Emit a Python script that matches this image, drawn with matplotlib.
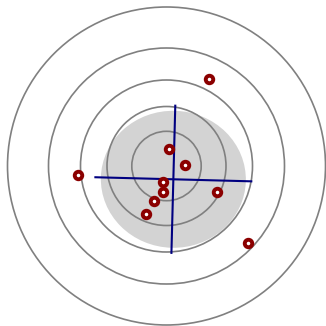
import numpy as np
import matplotlib
matplotlib.use("Agg")
import matplotlib.pyplot as plt
from matplotlib.patches import Circle, Ellipse

# Target ring radii
ring_radii = [34.7, 59.5, 86.0, 118.0, 159.0]

# Shot positions relative to the target centre
shot_x = [42.8, -88.2, 2.8, 18.2, -3.2, -3.2, 50.2, -12.2, -20.2, 81.5]
shot_y = [87.3, -9.3, 17.0, 0.7, -16.0, -26.3, -25.7, -35.0, -48.3, -77.3]

# Dispersion ellipse: semi-axes and rotation (degrees)
spread_semi_axes = [72.5, 68.5]
spread_angle = -1.5

fig = plt.figure(figsize=(3.26, 3.26), dpi=100)
ax = fig.add_axes([0, 0, 1, 1])
ax.set_xlim(-166.5, 159.5)
ax.set_ylim(-160, 166)
ax.set_aspect("equal")
ax.axis("off")

cx, cy = np.mean(shot_x), np.mean(shot_y)
a, b = spread_semi_axes

ax.add_patch(Ellipse((cx, cy), 2 * a, 2 * b, angle=spread_angle,
                     facecolor="#d3d3d3", edgecolor="none", zorder=1))

for r in ring_radii:
    ax.add_patch(Circle((0, 0), r, facecolor="none", edgecolor="#808080",
                        linewidth=1.2, zorder=2))

# Principal axes of the dispersion
t = np.deg2rad(spread_angle)
ux, uy = np.cos(t), np.sin(t)
vx, vy = -np.sin(t), np.cos(t)
k = 1.09
ax.plot([cx - k * a * ux, cx + k * a * ux], [cy - k * a * uy, cy + k * a * uy],
        color="#000080", linewidth=1.5, zorder=3, solid_capstyle="butt")
ax.plot([cx - k * b * vx, cx + k * b * vx], [cy - k * b * vy, cy + k * b * vy],
        color="#000080", linewidth=1.5, zorder=3, solid_capstyle="butt")

ax.plot(shot_x, shot_y, linestyle="none", marker="o", markersize=5.4,
        markerfacecolor="white", markeredgecolor="#8b0000",
        markeredgewidth=2.8, zorder=4)

fig.savefig("out.png", dpi=100)
